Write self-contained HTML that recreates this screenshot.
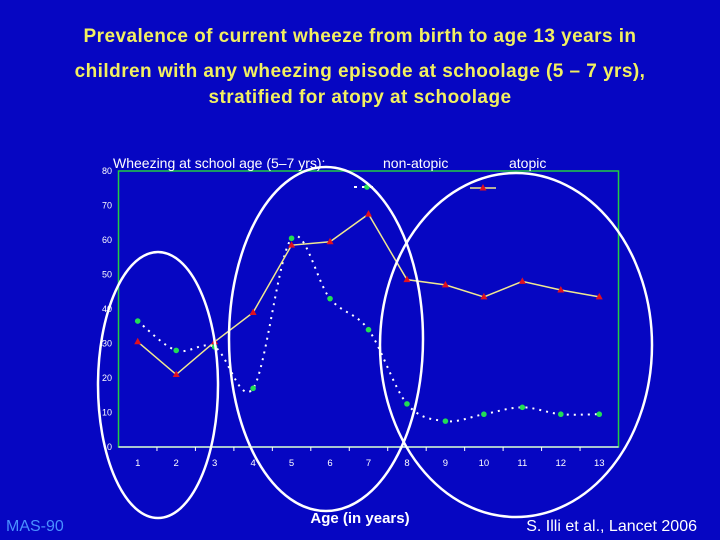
<!DOCTYPE html>
<html><head><meta charset="utf-8"><style>
body{margin:0;width:720px;height:540px;background:#0606c2;overflow:hidden;font-family:"Liberation Sans",sans-serif}
</style></head><body>
<svg width="720" height="540" xmlns="http://www.w3.org/2000/svg" style="display:block">
<rect width="720" height="540" fill="#0606c2"/>
<g fill="#f2f060" font-weight="bold" font-size="19" letter-spacing="0.45" text-anchor="middle">
<text x="360" y="42">Prevalence of current wheeze from birth to age 13 years in</text>
<text x="360" y="77">children with any wheezing episode at schoolage (5 – 7 yrs),</text>
<text x="360" y="103">stratified for atopy at schoolage</text>
</g>
<g id="plot"></g>
<text x="360" y="523" fill="#fff" font-weight="bold" font-size="15" text-anchor="middle">Age (in years)</text>
<text x="6" y="531" fill="#4a90ff" font-size="16">MAS-90</text>
<text x="697" y="531" fill="#fff" font-size="16" text-anchor="end">S. Illi et al., Lancet 2006</text>
</svg>
<script>
const categories=["1","2","3","4","5","6","7","8","9","10","11","12","13"];
const atopic=[30.5,21,30.5,39,58.5,59.5,67.5,48.5,47,43.5,48,45.5,43.5];
const nonAtopic=[36.5,28,29,17,60.5,43,34,12.5,7.5,9.5,11.5,9.5,9.5];
const yTicks=[0,10,20,30,40,50,60,70,80];
const NS="http://www.w3.org/2000/svg";
const L=118.5,R=618.5,T=171,B=447;
const step=(R-L)/categories.length;
const x=i=>L+step*(i+0.5);
const y=v=>B-(v/80)*(B-T);
const g=document.getElementById('plot');
function mk(t,a,p){const e=document.createElementNS(NS,t);for(const k in a)e.setAttribute(k,a[k]);(p||g).appendChild(e);return e;}
let e;
e=mk('rect',{x:L,y:T,width:R-L,height:B-T,fill:'none',stroke:'#22cc44','stroke-width':1.5});


e=mk('line',{x1:L,y1:B,x2:R,y2:B,stroke:'#fff','stroke-width':1.2});


for(let k=1;k<categories.length;k++){
 e=mk('line',{x1:L+step*k,y1:B,x2:L+step*k,y2:B+4,stroke:'#fff'});
 
 
}
categories.forEach((c,i)=>{
 e=mk('text',{x:x(i),y:B+19,fill:'#fff','font-size':9.5,'text-anchor':'middle'});e.textContent=c;
 
 
});
yTicks.forEach(v=>{
 e=mk('text',{x:112,y:y(v)+3,fill:'#fff','font-size':9,'text-anchor':'end'});e.textContent=v;
 
 
});
function smooth(vals){let p=vals.map((v,i)=>[x(i),y(v)]);let d='M'+p[0];for(let i=0;i<p.length-1;i++){const p0=p[i-1]||p[i],p1=p[i],p2=p[i+1],p3=p[i+2]||p2;
 d+=' C'+(p1[0]+(p2[0]-p0[0])/6)+','+(p1[1]+(p2[1]-p0[1])/6)+' '+(p2[0]-(p3[0]-p1[0])/6)+','+(p2[1]-(p3[1]-p1[1])/6)+' '+p2[0]+','+p2[1];}return d;}
e=mk('path',{d:smooth(nonAtopic),fill:'none',stroke:'#fff','stroke-width':2,'stroke-dasharray':'2 5'});


e=mk('polyline',{points:atopic.map((v,i)=>x(i)+','+y(v)).join(' '),fill:'none',stroke:'#f0e890','stroke-width':1.5});


nonAtopic.forEach((v,i)=>{
 e=mk('circle',{cx:x(i),cy:y(v),r:2.8,fill:'#22dd55'});
 
 
});
atopic.forEach((v,i)=>{const cx=x(i),cy=y(v);
 e=mk('polygon',{points:`${cx},${cy-4} ${cx-3.5},${cy+2.5} ${cx+3.5},${cy+2.5}`,fill:'#e01020'});
 
 
});
e=mk('text',{x:113,y:168,fill:'#fff','font-size':14});e.textContent='Wheezing at school age (5–7 yrs):';


e=mk('text',{x:383,y:168,fill:'#fff','font-size':14});e.textContent='non-atopic';


e=mk('text',{x:509,y:168,fill:'#fff','font-size':14});e.textContent='atopic';


e=mk('line',{x1:354,y1:187,x2:378,y2:187,stroke:'#fff','stroke-width':2,'stroke-dasharray':'3 5'});


e=mk('circle',{cx:367,cy:187,r:2.8,fill:'#22dd55'});


e=mk('line',{x1:470,y1:188,x2:496,y2:188,stroke:'#f0e890','stroke-width':1.5});


e=mk('polygon',{points:'483,184 479.5,190.5 486.5,190.5',fill:'#e01020'});


[[158,385,60,133],[326,339,97,172],[516,345,136,172]].forEach(a=>{
 e=mk('ellipse',{cx:a[0],cy:a[1],rx:a[2],ry:a[3],fill:'none',stroke:'#fff','stroke-width':2.5});
 
 
});
</script>
</body></html>
